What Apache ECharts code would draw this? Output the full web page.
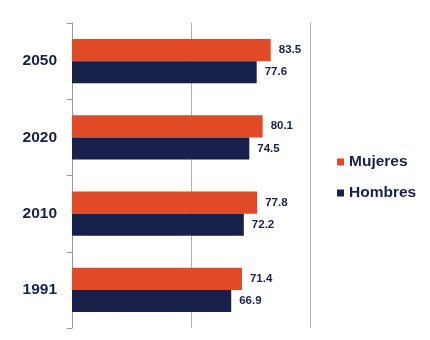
<!DOCTYPE html>
<html><head><meta charset="utf-8">
<script src="https://cdn.jsdelivr.net/npm/echarts@6/dist/echarts.min.js"></script>
<style>html,body{margin:0;padding:0;background:#fff}#c{width:430px;height:340px}</style>
</head><body><div id="c"></div>
<script>
const years = ['1991', '2010', '2020', '2050'];
const mujeres = [71.4, 77.8, 80.1, 83.5];
const hombres = [66.9, 72.2, 74.5, 77.6];
const seriesNames = ['Mujeres', 'Hombres'];

const navy = '#17214B';
const orange = '#E04A26';
const chart = echarts.init(document.getElementById('c'), null, {renderer: 'canvas'});
const labelStyle = {show: true, position: 'right', distance: 8, color: navy, fontWeight: 'bold', fontSize: 11.5, fontFamily: 'Liberation Sans, Arial, sans-serif', formatter: p => p.value.toFixed(1)};
chart.setOption({
  animation: false,
  backgroundColor: '#fff',
  grid: {left: 72, right: 120, top: 23, bottom: 12, containLabel: false},
  legend: {
    orient: 'vertical', left: 337, top: 154, padding: 0,
    itemWidth: 7, itemHeight: 7, itemGap: 15, icon: 'rect',
    textStyle: {color: navy, fontWeight: 'bold', fontSize: 15.5, fontFamily: 'Liberation Sans, Arial, sans-serif'},
    data: seriesNames
  },
  xAxis: {
    type: 'value', min: 0, max: 100, interval: 50,
    axisLine: {show: false}, axisTick: {show: false}, axisLabel: {show: false},
    splitLine: {show: true, lineStyle: {color: '#b0b0b0', width: 1}}
  },
  yAxis: {
    type: 'category', data: years,
    axisLine: {show: true, lineStyle: {color: '#9a9a9a', width: 1}},
    axisTick: {show: true, length: 5, lineStyle: {color: '#9a9a9a'}},
    axisLabel: {margin: 15, color: navy, fontWeight: 'bold', fontSize: 15.5, fontFamily: 'Liberation Sans, Arial, sans-serif'}
  },
  series: [
    {name: seriesNames[0], type: 'bar', data: mujeres, itemStyle: {color: orange}, barGap: '0%', barCategoryGap: '42%', label: labelStyle},
    {name: seriesNames[1], type: 'bar', data: hombres, itemStyle: {color: navy}, barGap: '0%', barCategoryGap: '42%', label: labelStyle}
  ]
});
</script></body></html>
